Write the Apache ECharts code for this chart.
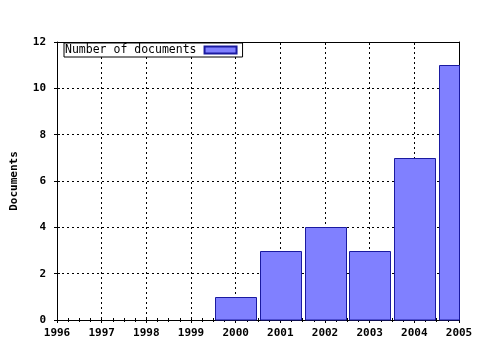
<!DOCTYPE html>
<html><head><meta charset="utf-8">
<script src="https://cdn.jsdelivr.net/npm/echarts@6/dist/echarts.min.js"></script>
<style>html,body{margin:0;padding:0;background:#fff}#c{width:480px;height:350px}</style>
</head><body><div id="c"></div>
<script>
var years = [2000, 2001, 2002, 2003, 2004, 2005];
var documents = [1, 3, 4, 3, 7, 11];
var seriesName = 'Number of documents';
var yAxisName = 'Documents';

var FONT = 'DejaVu Sans Mono';
var BAR_FILL = '#8080ff', BAR_STROKE = '#1a1aa0', BAR_W = 41;
var chart = echarts.init(document.getElementById('c'));
var data = years.map(function (y, i) { return [y, documents[i]]; });
var dotted = { show: true, lineStyle: { color: '#000', width: 1, type: [2, 3] } };
function xAx(pos, opts) {
  return Object.assign({
    type: 'value', position: pos, min: 1996, max: 2005, interval: 1,
    axisLine: { show: true, lineStyle: { color: '#000', width: 1 } },
    axisTick: { show: true, inside: false, length: 3, lineStyle: { color: '#000' } },
    minorTick: { show: true, splitNumber: 4, length: 2, lineStyle: { color: '#000' } },
    axisLabel: { show: false },
    splitLine: { show: false }
  }, opts);
}
chart.setOption({
  animation: false,
  backgroundColor: '#fff',
  grid: { left: 57, right: 21, top: 42, bottom: 30, containLabel: false, outerBoundsMode: 'none' },
  legend: {
    left: 64, top: 43, orient: 'horizontal', align: 'right',
    backgroundColor: '#fff', borderColor: '#000', borderWidth: 1, borderRadius: 0,
    padding: [1, 5, 1, 1], itemWidth: 32, itemHeight: 7,
    textStyle: { fontFamily: FONT, fontSize: 11.5, color: '#000', padding: [0, 3, 0, 0] },
    data: [{ name: seriesName, icon: 'rect' }]
  },
  xAxis: [
    xAx('bottom', {
      axisLabel: { show: true, fontFamily: FONT, fontWeight: 'bold', fontSize: 11, color: '#000', margin: 8,
        formatter: function (v) { return String(v); } },
      splitLine: dotted
    }),
    xAx('bottom', { axisTick: { show: true, inside: true, length: 3, lineStyle: { color: '#000' } }, minorTick: { show: false } }),
    xAx('top', {}),
    xAx('top', { axisTick: { show: true, inside: true, length: 3, lineStyle: { color: '#000' } }, minorTick: { show: false } })
  ],
  yAxis: [
    {
      type: 'value', position: 'left', min: 0, max: 12, interval: 2,
      name: yAxisName, nameLocation: 'middle', nameGap: 37, nameRotate: 90,
      nameTextStyle: { fontFamily: FONT, fontWeight: 'bold', fontSize: 11, color: '#000' },
      axisLine: { show: true, lineStyle: { color: '#000' } },
      axisTick: { show: true, length: 3, lineStyle: { color: '#000' } },
      axisLabel: { fontFamily: FONT, fontWeight: 'bold', fontSize: 11, color: '#000', margin: 11 },
      splitLine: dotted
    },
    {
      type: 'value', position: 'left', min: 0, max: 12, interval: 2,
      axisLine: { show: false },
      axisTick: { show: true, inside: true, length: 3, lineStyle: { color: '#000' } },
      axisLabel: { show: false }, splitLine: { show: false }
    },
    {
      type: 'value', position: 'right', min: 0, max: 12, interval: 2,
      axisLine: { show: true, lineStyle: { color: '#000' } },
      axisTick: { show: false }, axisLabel: { show: false }, splitLine: { show: false }
    }
  ],
  series: [{
    name: seriesName, type: 'custom', data: data,
    xAxisIndex: 0, yAxisIndex: 0, z: 3,
    itemStyle: { color: BAR_FILL, borderColor: BAR_STROKE, borderWidth: 1 },
    renderItem: function (params, api) {
      var x = api.value(0), v = api.value(1);
      var base = api.coord([x, 0]);
      var top = api.coord([x, v]);
      var cs = params.coordSys;
      var shape = echarts.graphic.clipRectByRect(
        { x: Math.round(top[0] - BAR_W / 2) + 0.5, y: Math.round(top[1]) + 0.5, width: BAR_W, height: Math.round(base[1]) - Math.round(top[1]) },
        { x: cs.x, y: cs.y, width: cs.width + 0.5, height: cs.height }
      );
      if (!shape) return null;
      return { type: 'rect', shape: shape, style: { fill: BAR_FILL, stroke: BAR_STROKE, lineWidth: 1 } };
    }
  }]
});
</script></body></html>
